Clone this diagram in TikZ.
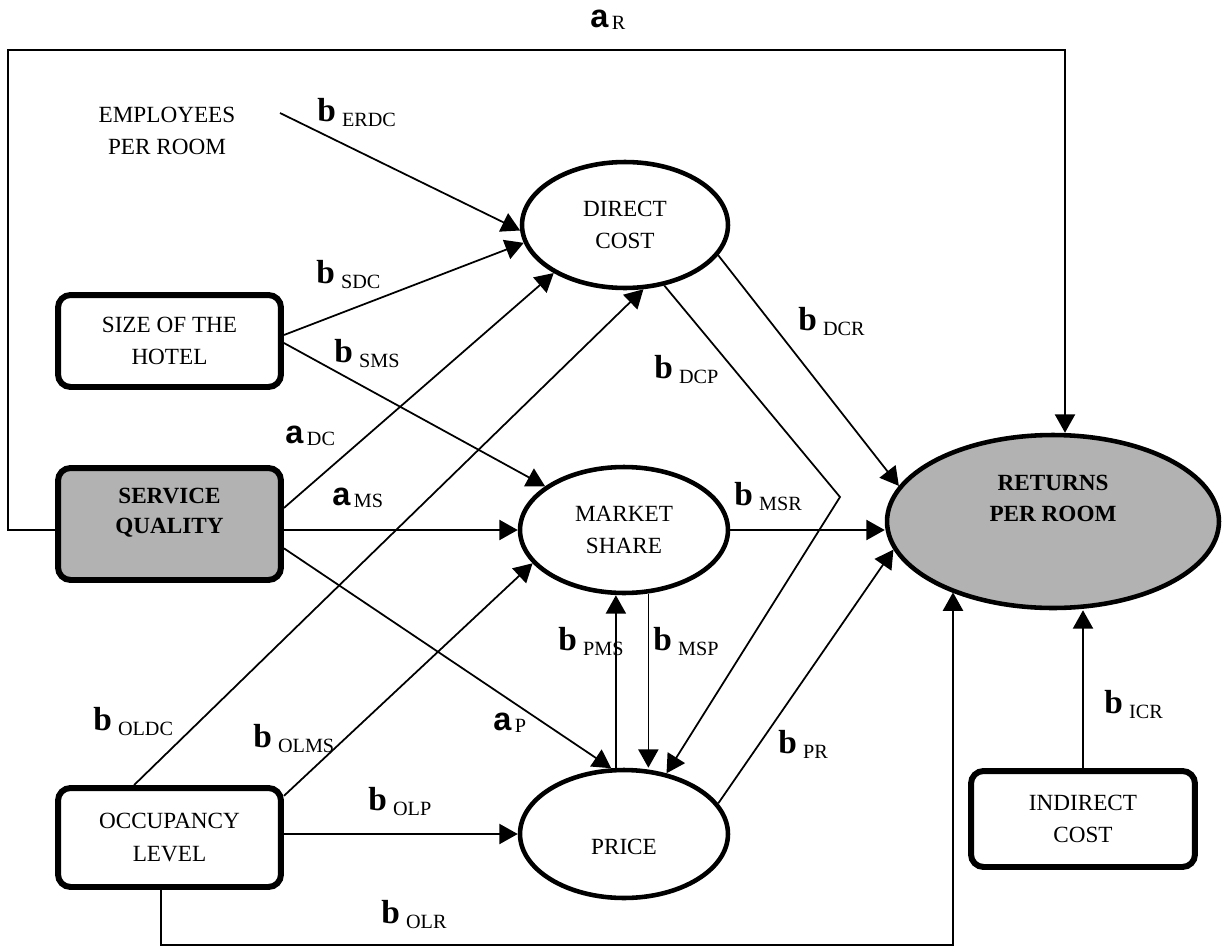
\documentclass[tikz,border=0pt]{standalone}
\usepackage{fontspec}
\setmainfont{Liberation Serif}
\newfontfamily\alphafont{Liberation Sans}
\usetikzlibrary{arrows.meta,shapes.geometric}
\definecolor{qgray}{RGB}{178,178,178}
\newcommand{\bcoef}[1]{{\bfseries\fontsize{19}{19}\selectfont b}\hspace{3.5pt}\raisebox{-3pt}{\fontsize{11.5}{12}\selectfont #1}}
\newcommand{\acoef}[1]{{\alphafont\bfseries\fontsize{18.5}{19}\selectfont a}\hspace{2pt}\raisebox{-1.5pt}{\fontsize{11.5}{12}\selectfont #1}}

\begin{document}
\begin{tikzpicture}[x=0.02cm,y=-0.02cm,
        txt/.style={align=center,font=\fontsize{13.2}{18.5}\selectfont},
        box/.style={txt,draw,line width=3.4pt,rounded corners=0.25cm,minimum width=4.46cm},
        oval/.style={txt,draw,ellipse,line width=2.6pt,inner sep=0pt},
        conn/.style={line width=1pt,-{Triangle[length=10.5pt,width=11.5pt]}},
        coef/.style={anchor=base west,inner sep=0pt}]
            \useasboundingbox (0,0) rectangle (1225,947);

            \node[txt] (emp) at (167,131) {EMPLOYEES\\PER ROOM};
            \node[box,minimum height=1.84cm] (size) at (169.5,341) {SIZE OF THE\\HOTEL};
            \node[box,fill=qgray,minimum height=2.24cm,label={[txt,font=\bfseries\fontsize{13.2}{17}\selectfont,yshift=0.22cm]center:SERVICE\\QUALITY}] (sq) at (169.5,524) {};
            \node[box,minimum height=1.98cm] (ol) at (169.5,837.5) {OCCUPANCY\\LEVEL};
            \node[box,minimum width=4.48cm,minimum height=1.92cm] (ic) at (1083,819) {INDIRECT\\COST};
            \node[oval,minimum width=4.12cm,minimum height=2.52cm] (dc) at (625,225) {DIRECT\\COST};
            \node[oval,minimum width=4.16cm,minimum height=2.52cm] (ms) at (624,530) {MARKET\\SHARE};
            \node[oval,minimum width=4.16cm,minimum height=2.56cm,label={[txt,yshift=-0.26cm]center:PRICE}] (pr) at (624,834) {};
            \node[oval,fill=qgray,minimum width=6.64cm,minimum height=3.46cm,label={[txt,font=\bfseries\fontsize{13.2}{18}\selectfont,yshift=0.46cm]center:RETURNS\\PER ROOM}] (rpr) at (1053,521.5) {};

            \coordinate (empout) at (280,113);
            \coordinate (lft) at (8,50);
            \coordinate (rgt) at (1065,50);
            \coordinate (dcpbend) at (840,497);
            \coordinate (olrbot) at (953,945);

            \draw[conn] (empout) -- (dc.183);
            \draw[conn] (size.3) -- (dc.190);
            \draw[conn] (size.-1) -- (ms.151);
            \draw[conn] (sq.8) -- (dc.214);
            \draw[conn] (sq.-3) -- (sq.-3 -| ms.west);
            \draw[conn] (sq.-12) -- (pr.101);
            \draw[conn] (sq.183) -| (lft) -- (rgt) -- (rgt |- rpr.north);
            \draw[conn] (ol.124) -- (dc.286);
            \draw[conn] (ol.20) -- (ms.200);
            \draw[conn] (pr.west -| ol.east) -- (pr.west);
            \draw[conn] (ol.261) |- (olrbot) -- (olrbot |- rpr.215);
            \draw[conn] (dc.342) -- (rpr.167);
            \draw[conn] (dc.303) -- (dcpbend) -- (pr.55);
            \draw[conn] (ms.east) -- (ms.east -| rpr.west);
            \draw[conn] (pr.97) -- (pr.97 |- ms.south);
            \draw[conn] (ms.291) -- (ms.291 |- pr.north);
            \draw[conn] (pr.18) -- (rpr.190);
            \draw[conn] (ic.north) -- (ic.north |- rpr.south);

            \node[coef] (aR) at (590,27) {\acoef{R}};
            \node[coef] (bERDC) at (317,121) {\bcoef{ERDC}};
            \node[coef] (bSDC) at (316,283) {\bcoef{SDC}};
            \node[coef] (bSMS) at (334,362) {\bcoef{SMS}};
            \node[coef] (aDC) at (285,443) {\acoef{DC}};
            \node[coef] (aMS) at (332,505) {\acoef{MS}};
            \node[coef] (bDCR) at (798,330) {\bcoef{DCR}};
            \node[coef] (bDCP) at (654,378) {\bcoef{DCP}};
            \node[coef] (bMSR) at (734,505) {\bcoef{MSR}};
            \node[coef] (bPMS) at (558,650) {\bcoef{PMS}};
            \node[coef] (bMSP) at (653,650) {\bcoef{MSP}};
            \node[coef] (aP) at (493,730) {\acoef{P}};
            \node[coef] (bOLDC) at (93,730) {\bcoef{OLDC}};
            \node[coef] (bOLMS) at (253,747) {\bcoef{OLMS}};
            \node[coef] (bOLP) at (368,810) {\bcoef{OLP}};
            \node[coef] (bOLR) at (381,923) {\bcoef{OLR}};
            \node[coef] (bPR) at (778,753) {\bcoef{PR}};
            \node[coef] (bICR) at (1104,713) {\bcoef{ICR}};
\end{tikzpicture}
\end{document}
